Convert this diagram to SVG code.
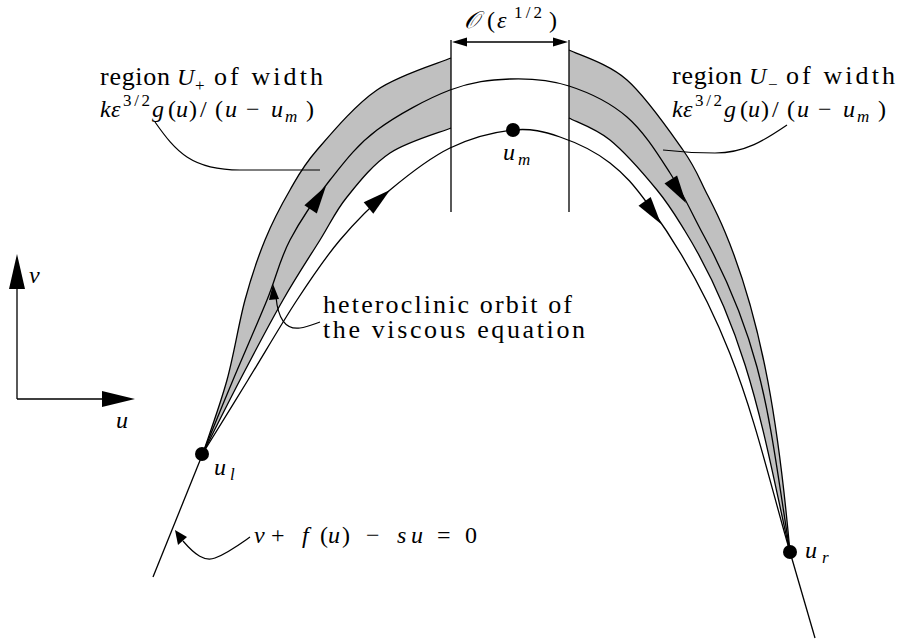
<svg xmlns="http://www.w3.org/2000/svg" width="899" height="644" viewBox="0 0 899 644">
<style>
.c{fill:none;stroke:#000;stroke-width:1.3}
.l{fill:none;stroke:#000;stroke-width:1.2}
.g{fill:#c0c0c0;stroke:none}
.t{font-family:"Liberation Serif",serif;font-size:26px;fill:#000}
.m{font-family:"Liberation Serif",serif;font-size:24px;fill:#000}
.i{font-style:italic}
.s{font-size:17px}
</style>
<rect width="899" height="644" fill="#fff"/>
<g id="region-plus">
<path class="g" d="M203,453 C207,440.8 220,405.5 227,380 C234,354.5 238.7,323.3 245,300 C251.3,276.7 257.5,258.3 265,240 C272.5,221.7 281.3,205 290,190 C298.7,175 302.5,166.7 317,150 C331.5,133.3 354.7,105.3 377,90 C399.3,74.7 438.7,63.3 451,58 L451,128 C440.8,132.2 407.3,141.5 390,153 C372.7,164.5 358.7,182.5 347,197 C335.3,211.5 330.7,222.8 320,240 C309.3,257.2 296.3,276.7 283,300 C269.7,323.3 253.3,354.5 240,380 C226.7,405.5 209.2,440.8 203,453 Z"/>
<path class="c" d="M203,453 C207,440.8 220,405.5 227,380 C234,354.5 238.7,323.3 245,300 C251.3,276.7 257.5,258.3 265,240 C272.5,221.7 281.3,205 290,190 C298.7,175 302.5,166.7 317,150 C331.5,133.3 354.7,105.3 377,90 C399.3,74.7 438.7,63.3 451,58"/>
<path class="c" d="M203,453 C209.2,440.8 226.7,405.5 240,380 C253.3,354.5 269.7,323.3 283,300 C296.3,276.7 309.3,257.2 320,240 C330.7,222.8 335.3,211.5 347,197 C358.7,182.5 372.7,164.5 390,153 C407.3,141.5 440.8,132.2 451,128"/>
</g>
<g id="region-minus">
<path class="g" d="M569,50 C578.7,55 608,63.3 627,80 C646,96.7 669.8,131.3 683,150 C696.2,168.7 699,178.3 706,192 C713,205.7 717.7,214.5 725,232 C763.6,324.2 779.2,432.4 790,552 C765.4,444.8 750.6,337.4 685,231 C674,213.2 669.5,205.2 657,190 C644.5,174.8 624.7,152 610,140 C595.3,128 575.8,121.7 569,118 Z"/>
<path class="c" d="M569,50 C578.7,55 608,63.3 627,80 C646,96.7 669.8,131.3 683,150 C696.2,168.7 699,178.3 706,192 C713,205.7 717.7,214.5 725,232 C763.6,324.2 779.2,432.4 790,552"/>
<path class="c" d="M569,118 C575.8,121.7 595.3,128 610,140 C624.7,152 644.5,174.8 657,190 C669.5,205.2 674,213.2 685,231 C750.6,337.4 765.4,444.8 790,552"/>
</g>
<g id="orbits">
<path class="c" d="M203,453 C210.5,440.8 232.3,405.5 248,380 C263.7,354.5 281.7,323.3 297,300 C312.3,276.7 324.5,258.3 340,240 C355.5,221.7 371.7,205.3 390,190 C408.3,174.7 429.5,158 450,148 C470.5,138 494.7,131.8 513,130 C531.3,128.2 543.8,131.5 560,137 C576.2,142.5 595,151.3 610,163 C625,174.7 633.8,184.7 650,207 C737.9,328.5 756.4,436.8 790,552"/>
<path class="c" d="M203,453 C208,440.8 222.3,405.5 233,380 C243.7,354.5 257.5,323.3 267,300 C276.5,276.7 279.5,260 290,240 C300.5,220 315.5,198.3 330,180 C344.5,161.7 357,145 377,130 C397,115 427.8,98.5 450,90 C472.2,81.5 490.2,79.7 510,79 C529.8,78.3 549.5,79.7 569,86 C588.5,92.3 610.2,102.5 627,117 C643.8,131.5 657.2,153.2 670,173 C682.8,192.8 692.8,215.3 704,236 C765.8,350.4 769.2,423.7 790,552"/>
<path class="c" d="M203,453 L153,577"/>
<path class="c" d="M790,552 L815,638"/>
<polygon points="326,186 316.8,213.4 304.4,205.2"/>
<polygon points="390,190 373.3,213.8 363.7,202.2"/>
<polygon points="686,203 677.1,175.4 664.5,183.6"/>
<polygon points="661,224 650.7,196.9 638.5,205.7"/>
</g>
<g id="width-marker">
<path class="c" d="M451,40 V212 M569,40 V212 M464,42 H556"/>
<polygon points="452,42 467,37.5 467,46.5"/>
<polygon points="568,42 553,37.5 553,46.5"/>
</g>
<g id="points">
<circle cx="513" cy="130" r="7"/>
<circle cx="202" cy="454" r="7"/>
<circle cx="790" cy="552" r="7"/>
</g>
<g id="axes">
<path class="c" d="M17,399 V286 M17,399 H105"/>
<polygon points="17,254 9,289 25,289"/>
<polygon points="135,399 102,391 102,407"/>
<text class="m i" x="29" y="283">v</text>
<text class="m i" x="116" y="428">u</text>
</g>
<g id="leaders">
<path class="l" d="M155,122 C176,152 192,170 240,170 L320,170"/>
<path class="l" d="M787,125 C765,140 745,153 715,153 C695,153 680,152 663,150"/>
<path class="l" d="M276,297 C278,318 285,330 300,328 C308,327 314,324 320,322"/>
<polygon points="273,284 269,300 279,299"/>
<path class="l" d="M183,541 C195,555 205,562 215,558 C228,553 240,544 250,537"/>
<polygon points="175,530 178,545 187,537"/>
</g>
<g id="labels">
<text class="t" x="100" y="85" textLength="70" lengthAdjust="spacing">region</text>
<text class="m i" x="177" y="85">U</text>
<text class="m s" x="195" y="91">+</text>
<text class="t" x="214" y="85" textLength="109" lengthAdjust="spacing">of width</text>
<g class="m">
<text class="i" x="100" y="117">k</text>
<text class="i" x="111" y="117">ε</text>
<text class="s" x="123" y="106" textLength="27" lengthAdjust="spacing">3/2</text>
<text class="i" x="152" y="117">g</text>
<text x="168" y="117">(</text>
<text class="i" x="176" y="117">u</text>
<text x="189" y="117">)</text>
<text x="200" y="117">/</text>
<text x="215" y="117">(</text>
<text class="i" x="225" y="117">u</text>
<text x="246" y="117">−</text>
<text class="i" x="271" y="117">u</text>
<text class="i s" x="285" y="122">m</text>
<text x="306" y="117">)</text>
</g>
<text class="t" x="672" y="84" textLength="70" lengthAdjust="spacing">region</text>
<text class="m i" x="749" y="84">U</text>
<text class="m s" x="768" y="90">−</text>
<text class="t" x="786" y="84" textLength="109" lengthAdjust="spacing">of width</text>
<g class="m">
<text class="i" x="672" y="117">k</text>
<text class="i" x="683" y="117">ε</text>
<text class="s" x="695" y="106" textLength="27" lengthAdjust="spacing">3/2</text>
<text class="i" x="724" y="117">g</text>
<text x="740" y="117">(</text>
<text class="i" x="748" y="117">u</text>
<text x="761" y="117">)</text>
<text x="772" y="117">/</text>
<text x="787" y="117">(</text>
<text class="i" x="797" y="117">u</text>
<text x="818" y="117">−</text>
<text class="i" x="843" y="117">u</text>
<text class="i s" x="857" y="122">m</text>
<text x="878" y="117">)</text>
</g>
<g class="m">
<text class="i" x="464" y="28">𝒪</text>
<text x="487" y="28">(</text>
<text class="i" x="497" y="28">ε</text>
<text class="s" x="514" y="18" textLength="28" lengthAdjust="spacing">1/2</text>
<text x="549" y="28">)</text>
</g>
<text class="m i" x="503" y="160">u</text>
<text class="m i s" x="518" y="165">m</text>
<text class="m i" x="214" y="475">u</text>
<text class="m i s" x="230" y="480">l</text>
<text class="m i" x="805" y="558">u</text>
<text class="m i s" x="822" y="563">r</text>
<text class="t" x="323" y="313" textLength="249" lengthAdjust="spacing">heteroclinic orbit of</text>
<text class="t" x="323" y="338" textLength="262" lengthAdjust="spacing">the viscous equation</text>
<g class="m">
<text class="i" x="254" y="543">v</text>
<text x="271" y="543">+</text>
<text class="i" x="302" y="543">f</text>
<text x="320" y="543">(</text>
<text class="i" x="328" y="543">u</text>
<text x="342" y="543">)</text>
<text x="366" y="543">−</text>
<text class="i" x="397" y="543">s</text>
<text class="i" x="411" y="543">u</text>
<text x="437" y="543">=</text>
<text x="465" y="543">0</text>
</g>
</g>
</svg>
